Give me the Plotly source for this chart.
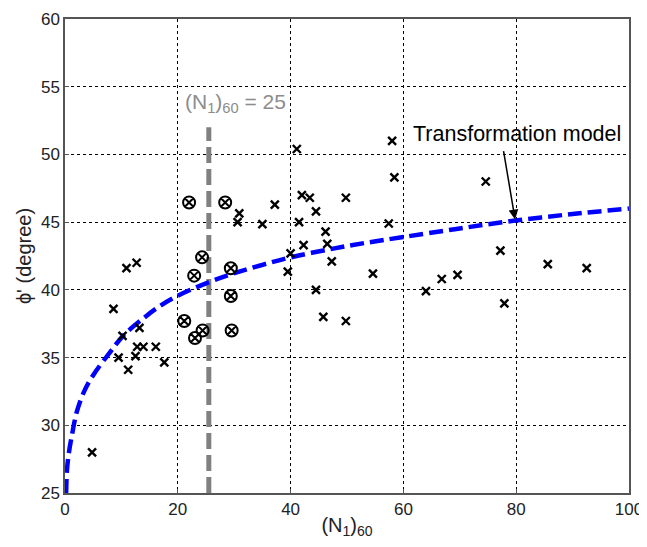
import plotly.graph_objects as go

# Crosses: (N1)60 and phi'
cross_n = [4.8, 8.6, 9.5, 10.2, 10.9, 11.2, 12.5, 12.7, 12.8, 13.2, 13.9, 16.1, 17.6,
           30.6, 30.9, 35.0, 37.2, 39.5, 40.0, 41.1, 41.5, 42.0, 42.3, 43.4, 44.5, 44.5,
           45.8, 46.2, 46.5, 47.3, 49.8, 49.8, 54.6, 57.4, 58.0, 58.4, 64.0, 66.8, 69.6,
           74.6, 77.2, 77.9, 85.6, 92.5]
cross_phi = [28.0, 38.6, 35.0, 36.6, 41.6, 34.1, 35.1, 42.0, 35.8, 37.2, 35.8, 35.8, 34.65,
             45.0, 45.65, 44.85, 46.3, 41.35, 42.7, 50.4, 45.0, 47.0, 43.3, 46.8, 45.8, 40.0,
             38.0, 44.3, 43.4, 42.1, 46.8, 37.7, 41.2, 44.9, 51.0, 48.3, 39.9, 40.8, 41.1,
             48.0, 42.9, 39.0, 41.9, 41.6]

# Circled crosses
circ_n = [22.0, 28.4, 24.3, 22.9, 29.4, 29.4, 21.15, 23.05, 24.4, 29.55]
circ_phi = [46.45, 46.45, 42.4, 41.05, 41.6, 39.55, 37.7, 36.45, 37.0, 37.0]

# Transformation model curve
model_n = [0.2, 0.35, 0.7, 1.2, 2.1, 3.5, 5.0, 8.0, 10.3, 13.9, 16.8, 19.9, 25.7, 29.8, 34.6,
           40.0, 47.0, 53.0, 60.0, 69.4, 79.5, 90.0, 100.0]
model_phi = [25.0, 26.7, 28.0, 29.2, 31.0, 32.6, 33.7, 35.4, 36.6, 37.9, 38.8, 39.55, 40.6,
             41.2, 41.8, 42.4, 43.0, 43.45, 43.9, 44.5, 45.1, 45.6, 46.0]

# Threshold line
thr_n = [25.5, 25.5]
thr_phi = [25.0, 52.0]

x_ticks = [0, 20, 40, 60, 80, 100]
y_ticks = [25, 30, 35, 40, 45, 50, 55, 60]

FONT = "Liberation Sans, Arial, sans-serif"

fig = go.Figure()
fig.add_trace(go.Scatter(x=thr_n, y=thr_phi, mode="lines",
                         line=dict(color="#808080", width=5, dash="16px,6px"),
                         hoverinfo="skip", showlegend=False))
fig.add_trace(go.Scatter(x=model_n, y=model_phi, mode="lines", line_shape="spline",
                         line=dict(color="#0000ff", width=4.5, dash="14px,6px"),
                         showlegend=False))
fig.add_trace(go.Scatter(x=cross_n, y=cross_phi, mode="markers",
                         marker=dict(symbol="x-thin-open", size=8, color="black",
                                     line=dict(color="black", width=2.4)),
                         showlegend=False))
fig.add_trace(go.Scatter(x=circ_n, y=circ_phi, mode="markers",
                         marker=dict(symbol="circle-x-open", size=12, color="black",
                                     line=dict(color="black", width=2)),
                         showlegend=False))

fig.add_annotation(x=20.9, y=53.8, xref="x", yref="y", xanchor="left", yanchor="middle",
                   text="(N<sub>1</sub>)<sub>60</sub> = 25", showarrow=False,
                   font=dict(family=FONT, size=21, color="#8c8c8c"))
fig.add_annotation(x=80.2, y=51.5, xref="x", yref="y", xanchor="center", yanchor="middle",
                   text="Transformation model", showarrow=False,
                   font=dict(family=FONT, size=21.5, color="black"))
fig.add_annotation(x=79.8, y=45.2, ax=77.7, ay=50.4, xref="x", yref="y", axref="x", ayref="y",
                   text=" ", showarrow=True, arrowhead=2, arrowsize=1.3, arrowwidth=1.5,
                   arrowcolor="black", font=dict(size=1))

axis_common = dict(showline=True, linecolor="#555555", linewidth=1.5, mirror=True,
                   showgrid=True, gridcolor="black", gridwidth=1, griddash="3px,3px",
                   ticks="inside", ticklen=4, tickcolor="#555555", zeroline=False,
                   automargin=False,
                   tickfont=dict(family=FONT, size=17, color="#222222"))
fig.update_xaxes(range=[0, 100], tickvals=x_ticks, ticktext=[str(v) for v in x_ticks],
                 title=dict(text="(N<sub>1</sub>)<sub>60</sub>", standoff=0,
                            font=dict(family=FONT, size=20, color="#222222")),
                 **axis_common)
fig.update_yaxes(range=[25, 60], tickvals=y_ticks, ticktext=[str(v) for v in y_ticks],
                 title=dict(text="ϕ' (degree)", standoff=4,
                            font=dict(family=FONT, size=20, color="#222222")),
                 **axis_common)
# page body has an 8px margin, so the figure is sized to fit the window from (8, 8)
fig.update_layout(width=639, height=539, plot_bgcolor="white", paper_bgcolor="white",
                  margin=dict(l=57, r=18, t=11, b=54), showlegend=False)
fig.write_html("out.html")
